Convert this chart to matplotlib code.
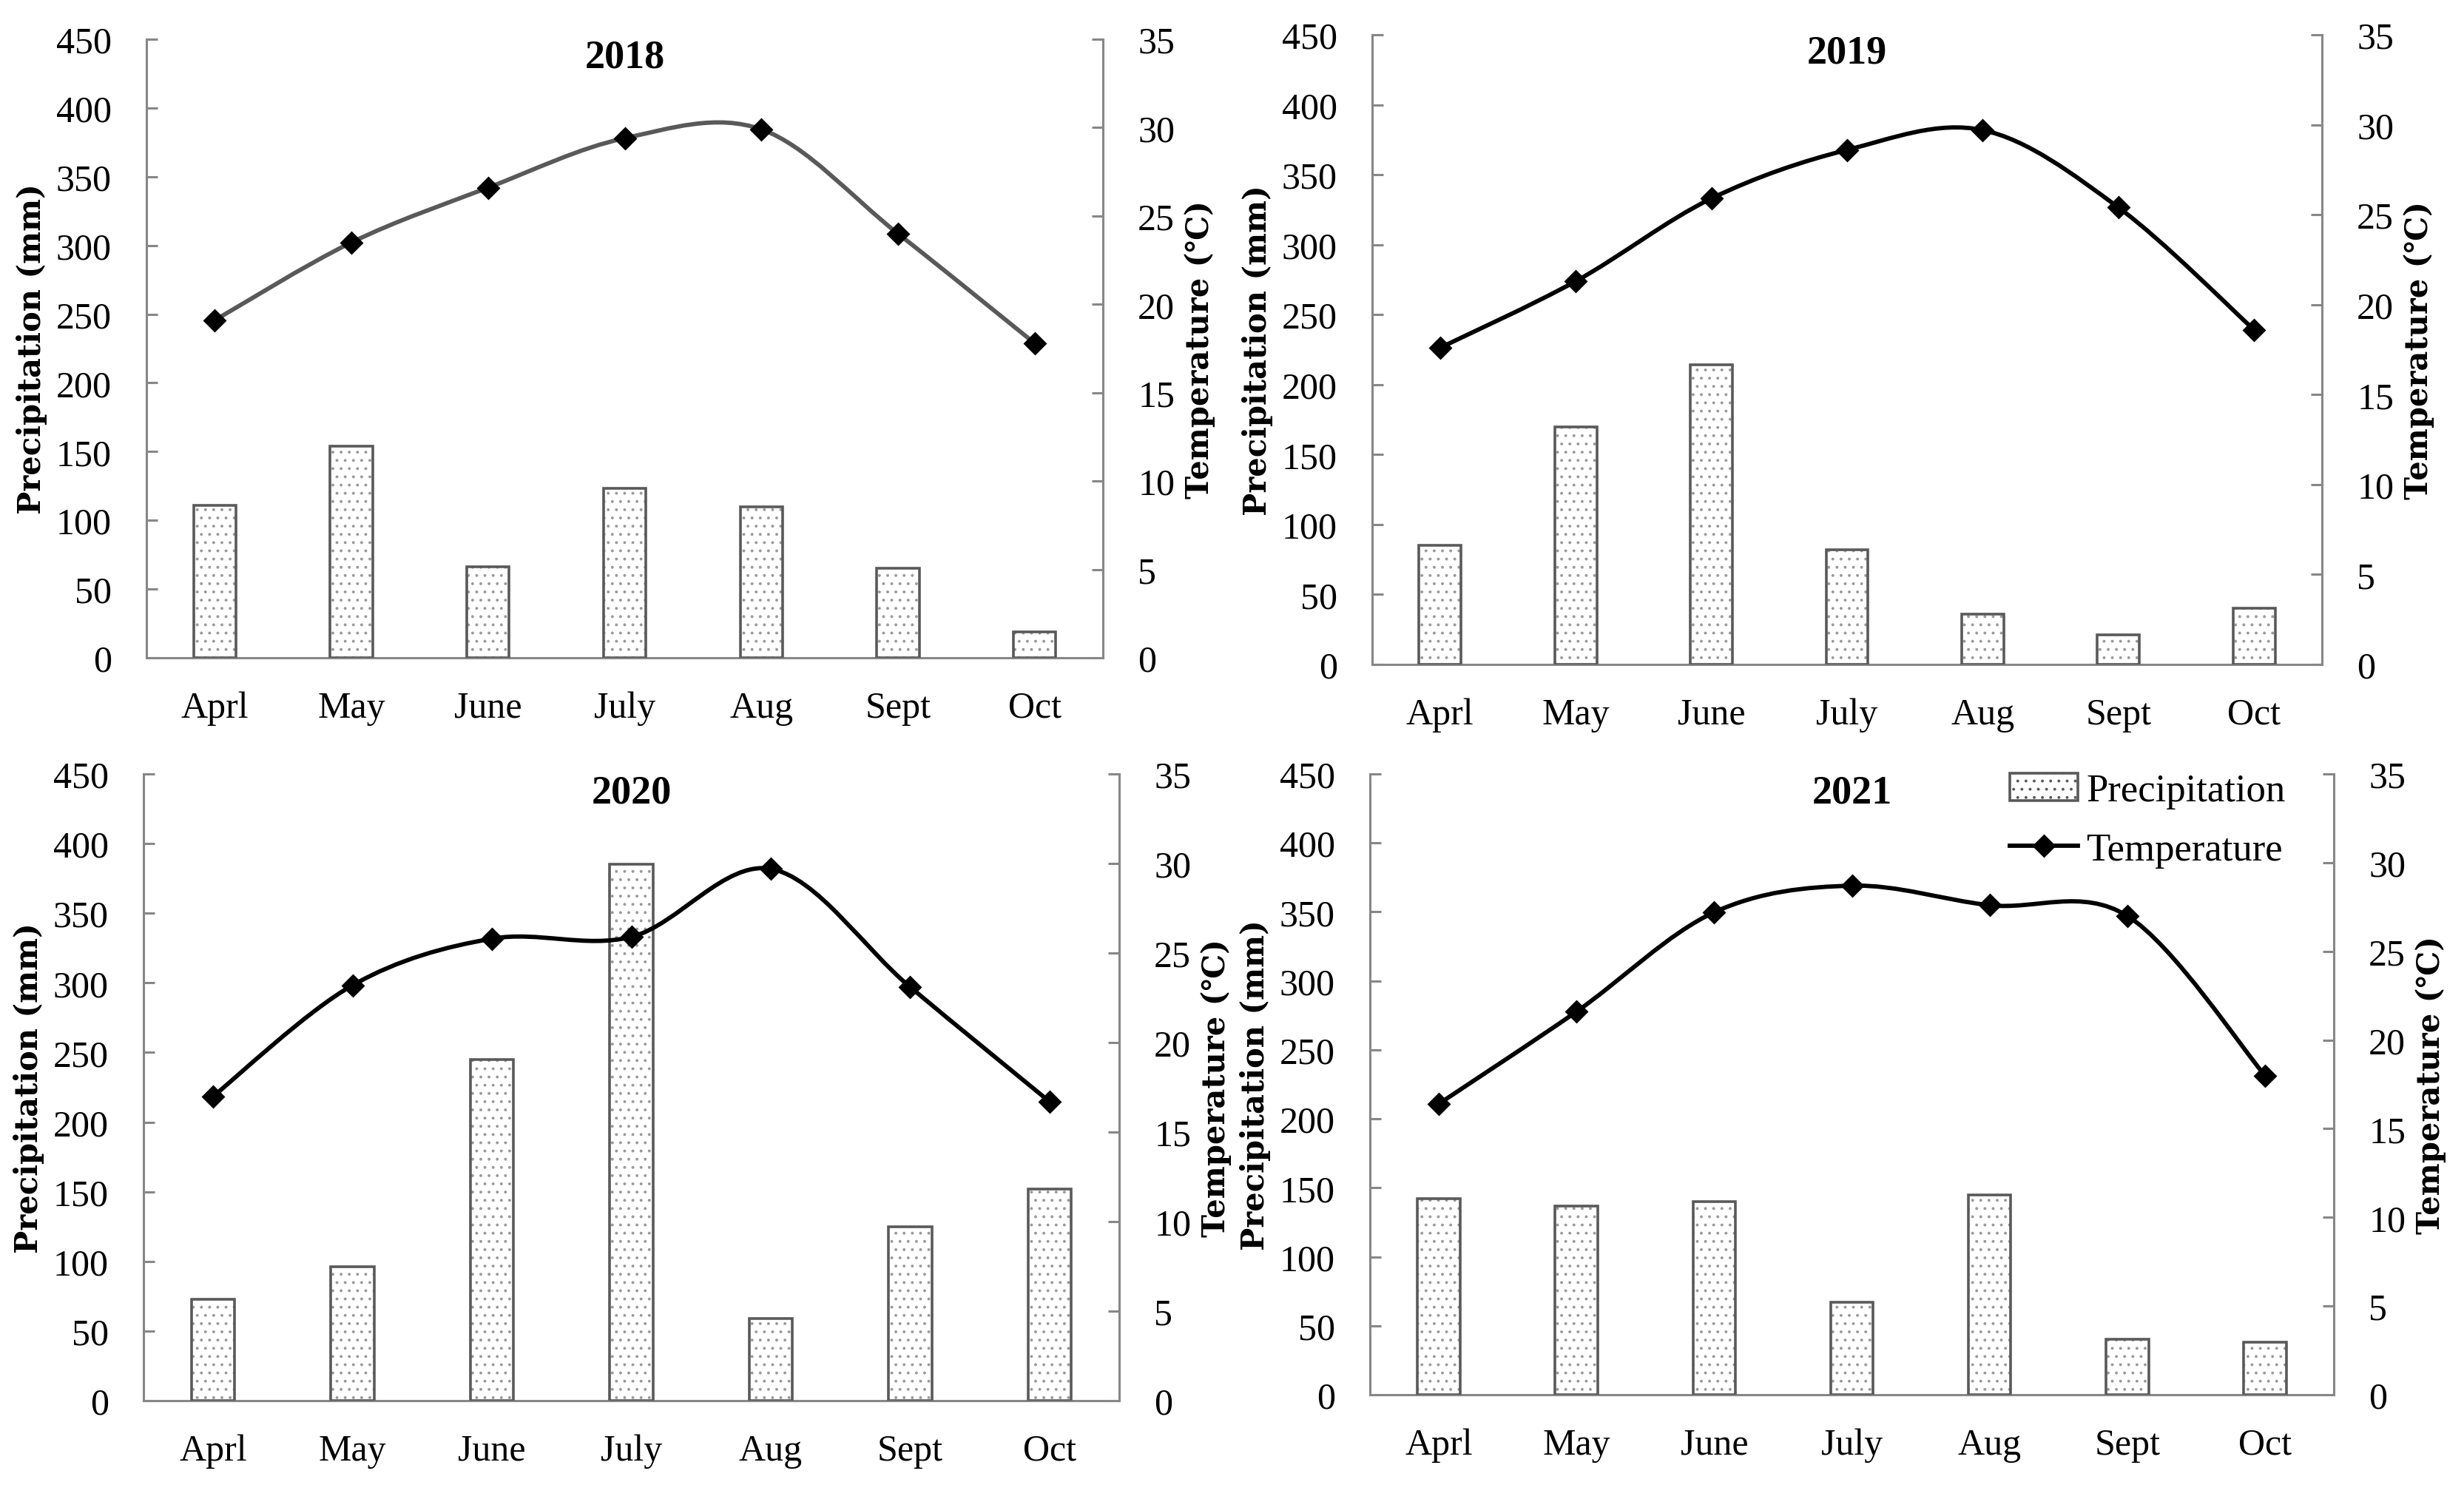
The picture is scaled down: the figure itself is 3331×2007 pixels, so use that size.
import numpy as np
import matplotlib
matplotlib.use("Agg")
from matplotlib import pyplot as plt
from matplotlib.path import Path
from matplotlib.patches import PathPatch, Patch
from matplotlib.lines import Line2D

plt.rcParams['font.family'] = ['Liberation Serif', 'DejaVu Serif']
plt.rcParams['hatch.linewidth'] = 0.6

months = ['Aprl', 'May', 'June', 'July', 'Aug', 'Sept', 'Oct']
years = ['2018', '2019', '2020', '2021']

# precipitation (mm)
prec_2018 = [111, 154, 66, 123, 110, 65, 19]
prec_2019 = [85, 170, 214, 82, 36, 21, 40]
prec_2020 = [73, 96, 245, 385, 59, 125, 152]
prec_2021 = [142, 137, 140, 67, 145, 40, 38]

# temperature (C)
temp_2018 = [19.1, 23.5, 26.6, 29.4, 29.9, 24.0, 17.8]
temp_2019 = [17.6, 21.3, 25.9, 28.6, 29.7, 25.4, 18.6]
temp_2020 = [17.0, 23.2, 25.8, 25.9, 29.7, 23.1, 16.7]
temp_2021 = [16.4, 21.6, 27.2, 28.7, 27.6, 27.0, 18.0]

prec = [prec_2018, prec_2019, prec_2020, prec_2021]
temp = [temp_2018, temp_2019, temp_2020, temp_2021]
line_colors = ['#595959', 'black', 'black', 'black']

W, H = 3331, 2008
# axes boxes in pixels: left, top, right, bottom
boxes = [(198, 54, 1491, 890),
         (1855, 48, 3139, 899),
         (194, 1047, 1513, 1894),
         (1852, 1047, 3155, 1886)]

spine_c = '#878787'
fs = 18      # tick labels
fs_lab = 15  # axis labels
fs_tit = 19.5
lab_font = ['DejaVu Serif']


def smooth_path(xs, ys):
    # Excel-like smoothed line (Catmull-Rom as cubic bezier)
    pts = np.column_stack([xs, ys]).astype(float)
    p = np.vstack([pts[0], pts, pts[-1]])
    verts = [pts[0]]
    codes = [Path.MOVETO]
    for i in range(1, len(p) - 2):
        c1 = p[i] + (p[i + 1] - p[i - 1]) / 6
        c2 = p[i + 1] - (p[i + 2] - p[i]) / 6
        verts += [c1, c2, p[i + 1]]
        codes += [Path.CURVE4] * 3
    return Path(verts, codes)


fig = plt.figure(figsize=(W / 200, H / 200), dpi=200)
x = np.arange(len(months))

for k in range(4):
    l, t, r, b = boxes[k]
    ax = fig.add_axes([l / W, 1 - b / H, (r - l) / W, (b - t) / H])
    ax2 = ax.twinx()

    ax.bar(x, prec[k], width=0.31, facecolor='white', edgecolor='#9a9a9a',
           linewidth=0, hatch='...', zorder=2)
    ax.bar(x, prec[k], width=0.31, fill=False, edgecolor='#595959',
           linewidth=1.3, zorder=3)

    ax2.add_patch(PathPatch(smooth_path(x, temp[k]), fill=False,
                            edgecolor=line_colors[k], linewidth=2.1, zorder=3))
    ax2.plot(x, temp[k], linestyle='none', marker='D', color='black',
             markersize=7, zorder=4)

    ax.set_xlim(-0.5, 6.5)
    ax.set_ylim(0, 450)
    ax.set_yticks(range(0, 451, 50))
    ax2.set_ylim(0, 35)
    ax2.set_yticks(range(0, 36, 5))
    ax.set_xticks(x)
    ax.set_xticklabels(months)

    for a in (ax, ax2):
        a.spines['top'].set_visible(False)
        for s in a.spines.values():
            s.set_color(spine_c)
            s.set_linewidth(1.1)
    ax.spines['right'].set_visible(False)
    ax2.spines['left'].set_visible(False)
    ax2.spines['bottom'].set_visible(False)

    ax.tick_params(axis='y', direction='in', length=5.5, width=1.1,
                   color=spine_c, labelsize=fs, pad=17)
    ax.tick_params(axis='x', length=0, labelsize=fs, pad=16)
    ax2.tick_params(axis='y', direction='in', length=5.5, width=1.1,
                    color=spine_c, labelsize=fs, pad=17)

    pw = r - l
    ax.set_ylabel('Precipitation (mm)', fontsize=fs_lab, fontweight='bold',
                  family=lab_font)
    ax.yaxis.set_label_coords(-134 / pw, 0.5)
    ax2.set_ylabel('Temperature (\u2103)', fontsize=fs_lab, fontweight='bold',
                   family=lab_font)
    ax2.yaxis.set_label_coords(1 + 110 / pw, 0.5)

    ax.text(0.5, 1 - 25 / (b - t), years[k], transform=ax.transAxes,
            ha='center', va='center', fontsize=fs_tit, fontweight='bold')

    if k == 3:
        handles = [Patch(facecolor='white', edgecolor='#595959', hatch='...',
                         linewidth=1.3),
                   Line2D([], [], color='black', linewidth=2.1, marker='D',
                          markersize=7)]
        ax2.legend(handles, ['Precipitation', 'Temperature'], loc='upper right',
                   bbox_to_anchor=(0.986, 1.058), frameon=False, fontsize=19,
                   handlelength=1.75, handletextpad=0.2, labelspacing=0.6)

fig.savefig('out.png', dpi=200)
